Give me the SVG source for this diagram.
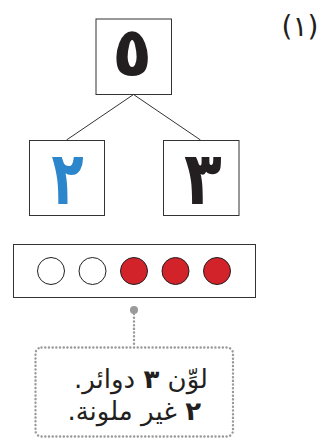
<svg xmlns="http://www.w3.org/2000/svg" width="325" height="442" viewBox="0 0 325 442">
<style>
.box{fill:#fff;stroke:#333;stroke-width:1}
.big{font-family:"DejaVu Sans",sans-serif;font-weight:bold;font-size:62px;text-anchor:middle}
.lbl{font-family:"DejaVu Sans",sans-serif;font-size:26px;fill:#231f20}
.ring{stroke:#231f20;stroke-width:1}
.dots{fill:none;stroke:#9a9a9c;stroke-width:2.4;stroke-dasharray:0.1 3.6;stroke-linecap:round}
</style>
<rect width="325" height="442" fill="#fff"/>
<text x="300" y="36" font-family="DejaVu Sans, sans-serif" font-size="28" text-anchor="middle" fill="#231f20">(١)</text>
<g id="connectors" stroke="#333" stroke-width="1" fill="none">
<line x1="133.5" y1="94.5" x2="66.5" y2="140"/>
<line x1="133.5" y1="94.5" x2="200.5" y2="140"/>
<line class="dots" x1="134" y1="314" x2="134" y2="346"/>
</g>
<g id="node-top">
<rect class="box" x="96" y="19" width="75.5" height="75.5"/>
<text class="big" transform="translate(132 76) scale(1.05 1.1)" fill="#231f20">٥</text>
</g>
<g id="node-left">
<rect class="box" x="29.5" y="140.5" width="75" height="75"/>
<text class="big" transform="translate(67.5 204) scale(0.85 1.2)" fill="#2b86cc">٢</text>
</g>
<g id="node-right">
<rect class="box" x="163.5" y="140.5" width="75.5" height="75"/>
<text class="big" transform="translate(203 204) scale(1 1.2)" fill="#231f20">٣</text>
</g>
<g id="node-circles">
<rect class="box" x="13.5" y="244.5" width="242" height="53"/>
<circle class="ring" cx="51" cy="271" r="13.5" fill="#fff"/>
<circle class="ring" cx="92.5" cy="271" r="13.5" fill="#fff"/>
<circle class="ring" cx="134" cy="271" r="13.5" fill="#d2232a"/>
<circle class="ring" cx="175.5" cy="271" r="13.5" fill="#d2232a"/>
<circle class="ring" cx="217" cy="271" r="13.5" fill="#d2232a"/>
</g>
<g id="node-note">
<circle cx="134" cy="310" r="4" fill="#9a9a9c"/>
<rect class="dots" x="35.5" y="347.5" width="197.5" height="89" rx="6"/>
<text class="lbl" x="208" y="388" direction="rtl" text-anchor="start">لوِّن <tspan font-weight="bold">٣</tspan> دوائر.</text>
<text class="lbl" x="201" y="420" direction="rtl" text-anchor="start"><tspan font-weight="bold">٢</tspan> غير ملونة.</text>
</g>
</svg>
